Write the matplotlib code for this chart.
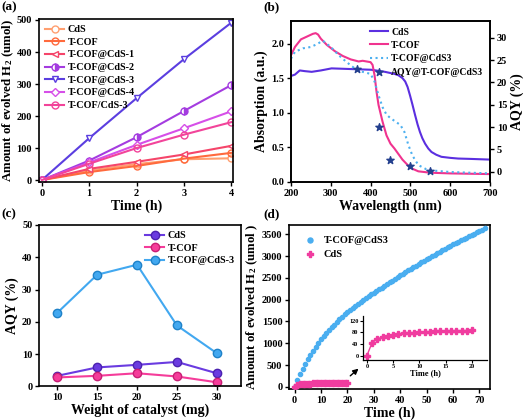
import numpy as np
import matplotlib
matplotlib.use("Agg")
import matplotlib.pyplot as plt

plt.rcParams['font.family'] = 'Liberation Serif'
plt.rcParams['font.weight'] = 'bold'
plt.rcParams['axes.labelweight'] = 'bold'
plt.rcParams['mathtext.fontset'] = 'custom'
plt.rcParams['mathtext.rm'] = 'Liberation Serif:bold'
plt.rcParams['mathtext.it'] = 'Liberation Serif:bold'
plt.rcParams['axes.linewidth'] = 1.2
plt.rcParams['xtick.major.width'] = 1.0
plt.rcParams['ytick.major.width'] = 1.0
plt.rcParams['xtick.major.size'] = 3
plt.rcParams['ytick.major.size'] = 3
plt.rcParams['xtick.major.pad'] = 2
plt.rcParams['ytick.major.pad'] = 2
plt.rcParams['xtick.labelsize'] = 7.5
plt.rcParams['ytick.labelsize'] = 7.5

# (a) H2 evolution vs time
time_a = [0, 1, 2, 3, 4]
cds_a = [0, 30, 50, 65, 68]
tcof_a = [0, 25, 44, 67, 85]
tcof_cds1 = [0, 35, 57, 80, 107]
tcof_cds2 = [0, 61, 134, 216, 297]
tcof_cds3 = [0, 131, 256, 378, 492]
tcof_cds4 = [0, 55, 110, 162, 215]
tcof_mix3 = [0, 51, 100, 142, 181]

# (b) absorption spectra + AQY
wl_cds = [200, 210, 222, 235, 252, 275, 302, 352, 402, 436, 460, 470, 480, 487, 493, 499,
          505, 512, 518, 524, 530, 537, 545, 553, 565, 578, 600, 620, 650, 700]
abs_cds = [1.53, 1.55, 1.61, 1.60, 1.59, 1.61, 1.64, 1.63, 1.62, 1.59, 1.56, 1.54, 1.50, 1.45, 1.37, 1.25,
           1.12, 0.96, 0.83, 0.72, 0.63, 0.55, 0.48, 0.43, 0.39, 0.36, 0.345, 0.335, 0.33, 0.32]
wl_tcof = [200, 210, 225, 240, 255, 262, 268, 275, 290, 310, 330, 350, 370, 380, 390, 400,
           405, 410, 415, 420, 430, 440, 450, 460, 470, 480, 490, 500, 520, 550, 600, 700]
abs_tcof = [1.83, 1.95, 2.06, 2.10, 2.14, 2.15, 2.13, 2.07, 1.98, 1.89, 1.82, 1.77, 1.74, 1.75, 1.74, 1.73,
            1.69, 1.54, 1.30, 1.11, 0.87, 0.67, 0.55, 0.48, 0.40, 0.32, 0.26, 0.20, 0.15, 0.13, 0.12, 0.11]
wl_mix = [200, 210, 230, 250, 265, 280, 300, 320, 340, 360, 380, 400, 410, 420, 430, 440,
          450, 460, 475, 485, 495, 505, 520, 540, 560, 600, 700]
abs_mix = [1.78, 1.88, 1.93, 1.95, 1.99, 2.04, 1.95, 1.83, 1.73, 1.64, 1.59, 1.56, 1.45, 1.25, 1.08, 0.97,
           0.92, 0.88, 0.82, 0.72, 0.53, 0.38, 0.24, 0.18, 0.16, 0.14, 0.12]
wl_aqy = [365, 420, 450, 500, 550]
aqy_mix = [22.9, 10.1, 2.7, 1.4, 0.3]

# (c) AQY vs catalyst weight
weight = [10, 15, 20, 25, 30]
aqy_cds = [3.3, 5.9, 6.7, 7.6, 4.1]
aqy_tcof = [2.8, 3.3, 4.1, 3.1, 1.3]
aqy_tcof_cds3 = [22.8, 34.6, 37.7, 18.9, 10.3]

# (d) long-term H2 evolution
time_long = list(range(73))
h2_long = [0, 150, 285, 405, 520, 630, 730, 825, 915, 1005,
           1090, 1160, 1230, 1300, 1365, 1430, 1490, 1550, 1610, 1665,
           1720, 1770, 1815, 1860, 1905, 1950, 1995, 2035, 2080, 2120,
           2160, 2200, 2240, 2280, 2320, 2360, 2400, 2440, 2480, 2520,
           2560, 2600, 2635, 2675, 2710, 2750, 2785, 2820, 2860, 2895,
           2930, 2965, 3000, 3035, 3070, 3100, 3135, 3170, 3200, 3235,
           3270, 3300, 3330, 3360, 3395, 3425, 3455, 3485, 3515, 3550,
           3580, 3610, 3640]
time_cds = list(range(21))
h2_cds = [0, 45, 57, 65, 69, 72, 75, 77, 78, 79, 80, 81, 82, 83, 84, 85, 85, 86, 86, 86, 87]

fig = plt.figure(figsize=(5.24, 4.2), dpi=100)

# ---------- (a)
ax = fig.add_axes([0.0744, 0.5667, 0.371, 0.388])
styles = [
    ('CdS', cds_a, '#FF9F70', 'o', 'white', 'full'),
    ('T-COF', tcof_a, '#FF6A3D', 'o', 'none', 'full'),
    ('T-COF@CdS-1', tcof_cds1, '#F5456A', '<', 'white', 'full'),
    ('T-COF@CdS-2', tcof_cds2, '#A43CE0', 'o', 'white', 'right'),
    ('T-COF@CdS-3', tcof_cds3, '#5B3EE0', 'v', 'white', 'full'),
    ('T-COF@CdS-4', tcof_cds4, '#D64FE8', 'D', 'white', 'full'),
    ('T-COF/CdS-3', tcof_mix3, '#F2449A', 'o', 'none', 'full'),
]
for lab, y, c, m, fc, fs in styles:
    if fs == 'right':
        ax.plot(time_a, y, color=c, lw=1.5, marker=m, ms=5, mew=1, mfc=c,
                mfcalt='white', fillstyle='right', label=lab)
    else:
        ax.plot(time_a, y, color=c, lw=1.5, marker=m, ms=5 if m != 'D' else 4.5,
                mew=1, mfc=fc, label=lab)
ax.set_xlim(-0.06, 4.04)
ax.set_ylim(-6, 503)
ax.set_xticks([0, 1, 2, 3, 4])
ax.set_yticks([0, 100, 200, 300, 400, 500])
ax.set_xlabel('Time (h)', fontsize=10, labelpad=1)
ax.set_ylabel('Amount of evolved H$_2$ (umol)', fontsize=9.3, labelpad=0.5)
ax.legend(loc='upper left', fontsize=7.3, frameon=False, handlelength=1.9,
          handletextpad=0.3, labelspacing=0.35, borderaxespad=0.2)

# ---------- (b)
ax = fig.add_axes([0.5553, 0.5674, 0.3798, 0.3833])
l1, = ax.plot(wl_cds, abs_cds, color='#5B2FE0', lw=1.5, label='CdS')
l2, = ax.plot(wl_tcof, abs_tcof, color='#F0338F', lw=1.5, label='T-COF')
l3, = ax.plot(wl_mix, abs_mix, color='#4DB0F0', lw=1.5, ls=':', label='T-COF@CdS3')
ax.set_xlim(200, 700)
ax.set_ylim(0, 2.33)
ax.set_xticks([200, 300, 400, 500, 600, 700])
ax.set_yticks([0.0, 0.5, 1.0, 1.5, 2.0])
ax.set_yticklabels(['0.0', '0.5', '1.0', '1.5', '2.0'])
ax.set_xlabel('Wavelength (nm)', fontsize=10, labelpad=1)
ax.set_ylabel('Absorption (a.u.)', fontsize=10, labelpad=2)
ax2 = ax.twinx()
l4 = ax2.scatter(wl_aqy, aqy_mix, marker='*', s=30, color='#24408E', label='AQY@T-COF@CdS3', zorder=5)
ax2.set_ylim(-2.2, 33.8)
ax2.set_yticks([0, 5, 10, 15, 20, 25, 30])
ax2.set_ylabel('AQY (%)', fontsize=10, labelpad=2)
ax2.legend(handles=[l1, l2, l3, l4], loc='upper right', fontsize=7, frameon=False,
           handlelength=1.9, handletextpad=0.3, labelspacing=0.45, borderaxespad=0.3)

# ---------- (c)
ax = fig.add_axes([0.075, 0.0798, 0.3844, 0.3845])
ax.plot(weight, aqy_cds, color='#6A3BE0', lw=1.5, marker='o', ms=6, mec='#4B22B0', label='CdS')
ax.plot(weight, aqy_tcof, color='#F53C9A', lw=1.5, marker='o', ms=6, mec='#C81E74', label='T-COF')
ax.plot(weight, aqy_tcof_cds3, color='#42A8F0', lw=1.5, marker='o', ms=6, mec='#1F82C8', label='T-COF@CdS-3')
ax.set_xlim(7.75, 33)
ax.set_ylim(0, 50)
ax.set_xticks([10, 15, 20, 25, 30])
ax.set_yticks([0, 10, 20, 30, 40, 50])
ax.set_xlabel('Weight of catalyst (mg)', fontsize=10, labelpad=1)
ax.set_ylabel('AQY (%)', fontsize=10, labelpad=2)
ax.legend(loc='upper right', fontsize=7.3, frameon=False, handlelength=1.9,
          handletextpad=0.3, labelspacing=0.35, borderaxespad=0.2)

# ---------- (d)
ax = fig.add_axes([0.5521, 0.0738, 0.383, 0.3905])
ax.scatter(time_long, h2_long, s=9, color='#4AAEF0', label='T-COF@CdS3', zorder=3)
ax.scatter(time_cds, h2_cds, s=16, marker='P', color='#F03C9F', label='CdS', zorder=3)
ax.set_xlim(-2, 74)
ax.set_ylim(-50, 3715)
ax.set_xticks([0, 10, 20, 30, 40, 50, 60, 70])
ax.set_yticks([0, 500, 1000, 1500, 2000, 2500, 3000, 3500])
ax.set_xlabel('Time (h)', fontsize=10, labelpad=1)
ax.set_ylabel('Amount of evolved H$_2$ (umol )', fontsize=9.3, labelpad=1)
ax.legend(loc='upper left', fontsize=7.5, frameon=False, handletextpad=0.3,
          labelspacing=0.5, borderaxespad=0.6, markerscale=1.2)
ax.annotate('', xy=(25, 460), xytext=(20.3, 210),
            arrowprops=dict(arrowstyle='-|>', color='black', lw=1, mutation_scale=8))

ins = fig.add_axes([0.692, 0.1429, 0.238, 0.105])
ins.plot(time_cds, h2_cds, color='#F03C9F', lw=1, marker='P', ms=4.5)
ins.set_xlim(-0.8, 22.9)
ins.set_ylim(-14, 136)
ins.set_xticks([0, 5, 10, 15, 20])
ins.set_yticks([0, 40, 80, 120])
ins.spines['top'].set_visible(False)
ins.spines['right'].set_visible(False)
ins.tick_params(labelsize=4.5, length=2, width=0.8, pad=1)
for s in ins.spines.values():
    s.set_linewidth(0.9)
ins.set_xlabel('Time (h)', fontsize=6, labelpad=0)

for lab, x, y in [('(a)', 0.003, 0.998), ('(b)', 0.503, 0.998), ('(c)', 0.003, 0.505), ('(d)', 0.503, 0.505)]:
    fig.text(x, y, lab, fontsize=9.5, fontweight='bold', va='top', ha='left')

fig.savefig('out.png', dpi=100)
